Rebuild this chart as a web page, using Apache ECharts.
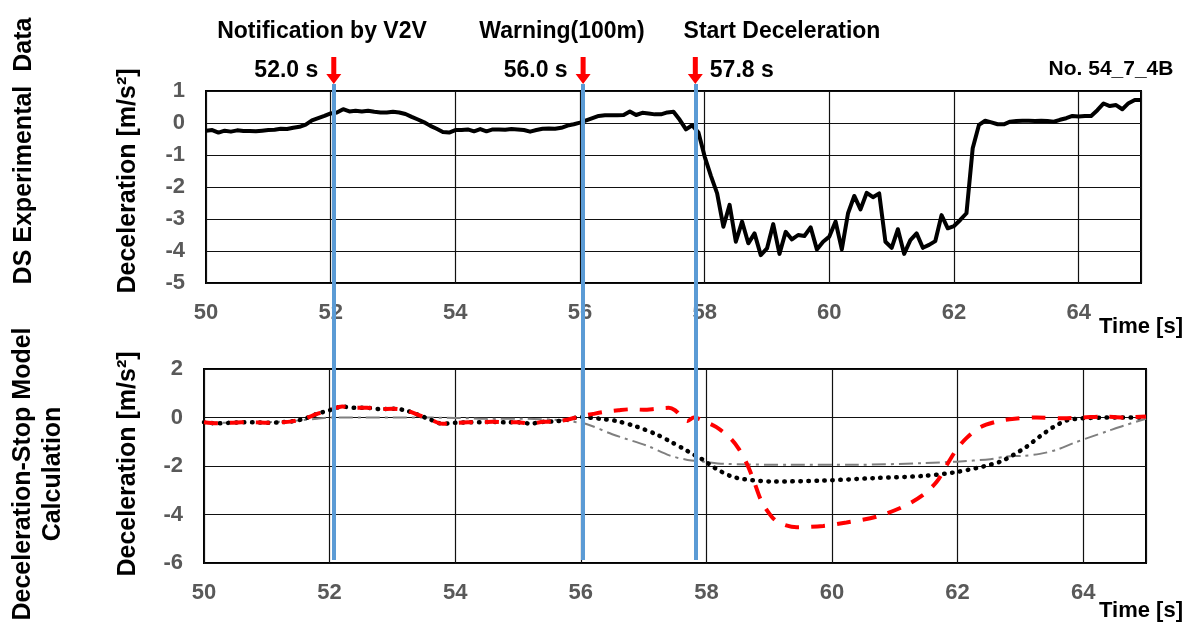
<!DOCTYPE html>
<html>
<head>
<meta charset="utf-8">
<title>Deceleration No. 54_7_4B</title>
<script src="https://cdn.jsdelivr.net/npm/echarts@6/dist/echarts.min.js"></script>
<style>
    html, body {margin: 0; padding: 0; background: #fff;}
    #main {width: 1195px; height: 634px;}
</style>
</head>
<body>
<div id="main"></div>
<script>
/* DS experimental data, sampled every 0.1 s */
var topTime = [
    50.0,50.1,50.2,50.3,50.4,50.5,50.6,50.7,50.8,50.9,
    51.0,51.1,51.2,51.3,51.4,51.5,51.6,51.7,51.8,51.9,
    52.0,52.1,52.2,52.3,52.4,52.5,52.6,52.7,52.8,52.9,
    53.0,53.1,53.2,53.3,53.4,53.5,53.6,53.7,53.8,53.9,
    54.0,54.1,54.2,54.3,54.4,54.5,54.6,54.7,54.8,54.9,
    55.0,55.1,55.2,55.3,55.4,55.5,55.6,55.7,55.8,55.9,
    56.0,56.1,56.2,56.3,56.4,56.5,56.6,56.7,56.8,56.9,
    57.0,57.1,57.2,57.3,57.4,57.5,57.6,57.7,57.8,57.9,
    58.0,58.1,58.2,58.3,58.4,58.5,58.6,58.7,58.8,58.9,
    59.0,59.1,59.2,59.3,59.4,59.5,59.6,59.7,59.8,59.9,
    60.0,60.1,60.2,60.3,60.4,60.5,60.6,60.7,60.8,60.9,
    61.0,61.1,61.2,61.3,61.4,61.5,61.6,61.7,61.8,61.9,
    62.0,62.1,62.2,62.3,62.4,62.5,62.6,62.7,62.8,62.9,
    63.0,63.1,63.2,63.3,63.4,63.5,63.6,63.7,63.8,63.9,
    64.0,64.1,64.2,64.3,64.4,64.5,64.6,64.7,64.8,64.9,
    65.0
];
var topDecel = [
    -0.24,-0.22,-0.30,-0.24,-0.27,-0.23,-0.25,-0.25,-0.26,-0.24,
    -0.22,-0.21,-0.18,-0.19,-0.15,-0.12,-0.05,0.08,0.15,0.22,
    0.30,0.33,0.43,0.36,0.38,0.36,0.38,0.35,0.33,0.33,
    0.35,0.33,0.28,0.19,0.11,0.02,-0.09,-0.18,-0.28,-0.30,
    -0.22,-0.22,-0.20,-0.26,-0.19,-0.26,-0.20,-0.20,-0.21,-0.19,
    -0.20,-0.22,-0.27,-0.22,-0.18,-0.17,-0.18,-0.15,-0.08,-0.04,
    0.01,0.08,0.15,0.22,0.24,0.24,0.24,0.25,0.36,0.25,
    0.32,0.30,0.27,0.27,0.33,0.35,0.10,-0.20,-0.07,-0.30,
    -1.05,-1.65,-2.20,-3.24,-2.56,-3.71,-3.08,-3.76,-3.45,-4.13,
    -3.92,-3.16,-4.09,-3.40,-3.64,-3.50,-3.53,-3.26,-3.95,-3.71,
    -3.55,-3.08,-3.95,-2.82,-2.28,-2.70,-2.18,-2.32,-2.20,-3.71,
    -3.90,-3.32,-4.09,-3.66,-3.45,-3.90,-3.81,-3.69,-2.88,-3.29,
    -3.22,-3.03,-2.82,-0.79,-0.06,0.07,0.02,-0.04,-0.04,0.04,
    0.06,0.07,0.07,0.06,0.07,0.06,0.04,0.10,0.15,0.22,
    0.20,0.22,0.22,0.40,0.61,0.53,0.56,0.43,0.62,0.72,
    0.72
];

/* Deceleration-stop model: red dashed */
var redTime = [
    50.0,50.2,50.4,50.6,50.8,51.0,51.2,51.4,51.6,51.8,
    52.0,52.2,52.4,52.6,52.8,53.0,53.2,53.4,53.6,53.8,
    54.0,54.2,54.4,54.6,54.8,55.0,55.2,55.4,55.6,55.8,
    56.0,56.2,56.4,56.6,56.8,57.0,57.2,57.4,57.5,57.6,57.7,57.8,
    57.98,58.16,58.38,58.51,58.64,58.75,58.88,59.04,59.17,59.44,
    59.86,60.23,60.71,61.14,61.45,61.67,61.83,61.98,62.14,62.36,
    62.62,62.83,63.26,63.68,64.0,64.32,64.64,65.0
];
var redDecel = [
    -0.20,-0.24,-0.22,-0.20,-0.20,-0.22,-0.20,-0.16,-0.05,0.15,
    0.30,0.45,0.40,0.40,0.35,0.36,0.30,0.12,-0.08,-0.26,
    -0.22,-0.20,-0.20,-0.18,-0.20,-0.20,-0.25,-0.18,-0.16,-0.08,
    0.05,0.15,0.24,0.30,0.34,0.32,0.36,0.40,0.30,0.05,-0.14,0.00,
    -0.17,-0.40,-0.85,-1.27,-1.88,-2.57,-3.47,-4.09,-4.36,-4.53,
    -4.47,-4.33,-4.09,-3.67,-3.19,-2.64,-1.95,-1.33,-0.85,-0.40,
    -0.17,-0.07,0.00,-0.03,0.00,0.04,0.00,0.04
];

/* black dotted */
var blackTime = [
    50.0,50.2,50.4,50.6,50.8,51.0,51.2,51.4,51.6,51.8,
    52.0,52.2,52.4,52.6,52.8,53.0,53.2,53.4,53.6,53.8,
    54.0,54.2,54.4,54.6,54.8,55.0,55.2,55.4,55.6,55.8,
    56.0,56.3,56.56,56.88,57.2,57.41,57.65,57.81,57.95,58.14,
    58.38,58.59,59.07,59.86,60.66,61.45,61.93,62.41,62.68,62.89,
    63.1,63.31,63.52,63.74,64.0,64.5,65.0
];
var blackDecel = [
    -0.20,-0.24,-0.22,-0.20,-0.20,-0.22,-0.20,-0.16,-0.05,0.15,
    0.30,0.45,0.40,0.40,0.35,0.36,0.30,0.12,-0.08,-0.26,
    -0.22,-0.20,-0.20,-0.18,-0.20,-0.20,-0.25,-0.18,-0.16,-0.08,
    0.02,-0.05,-0.14,-0.37,-0.69,-0.97,-1.31,-1.55,-1.75,-2.09,
    -2.41,-2.54,-2.64,-2.60,-2.50,-2.41,-2.27,-2.02,-1.82,-1.54,
    -1.20,-0.78,-0.40,-0.12,-0.03,0.00,0.00
];

/* gray dash-dot */
var grayTime = [
    50.0,50.5,51.0,51.5,51.8,52.0,52.5,53.0,53.5,54.0,
    54.5,55.0,55.5,55.8,56.1,56.5,57.06,57.41,57.7,57.95,
    58.27,59.33,60.39,61.45,61.98,62.52,62.78,63.05,63.31,63.58,
    63.84,64.11,64.37,64.64,65.0
];
var grayDecel = [
    -0.20,-0.22,-0.20,-0.12,-0.05,0.00,0.00,0.00,0.00,-0.02,
    -0.05,-0.05,-0.08,-0.15,-0.28,-0.69,-1.17,-1.56,-1.75,-1.82,
    -1.91,-1.95,-1.95,-1.88,-1.82,-1.72,-1.61,-1.58,-1.50,-1.33,
    -1.06,-0.81,-0.58,-0.34,-0.05
];

/* events (blue lines / red arrows) */
var eventTime = [52.05, 56.05, 57.85];
var eventValue = ['52.0 s', '56.0 s', '57.8 s'];
var eventName = ['Notification by V2V', 'Warning(100m)', 'Start Deceleration'];

var FONT = '"Liberation Sans", Arial, sans-serif';
var arrowPath = 'path://M-2.5,0 L2.5,0 L2.5,17 L7.5,17 L0,27 L-7.5,17 L-2.5,17 Z';

function pairs(t, v){
    var out = [];
    for (var i = 0; i < t.length; i++) {
        out.push([t[i], v[i]]);
    }
    return out;
}

function timeAxis(idx){
    return {
        type: 'value', gridIndex: idx, min: 50, max: 65, interval: 2,
        axisLine: {show: false}, axisTick: {show: false},
        splitLine: {show: true, lineStyle: {color: '#111', width: 1.2}},
        axisLabel: {
            show: true, margin: 19, color: '#595959', fontSize: 22,
            fontWeight: 'bold', fontFamily: FONT, showMaxLabel: false
        }
    };
}
function decelAxis(idx, min, max, step){
    return {
        type: 'value', gridIndex: idx, min: min, max: max, interval: step,
        axisLine: {show: false}, axisTick: {show: false},
        splitLine: {show: true, lineStyle: {color: '#111', width: 1.2}},
        axisLabel: {
            margin: 21, color: '#595959', fontSize: 22,
            fontWeight: 'bold', fontFamily: FONT
        }
    };
}

var arrowData = [], lineData = [];
for (var i = 0; i < eventTime.length; i++) {
    arrowData.push({
        value: [eventTime[i], 1],
        label: {
            show: true,
            formatter: eventValue[i],
            position: i < 2 ? 'left' : 'right',
            distance: i < 2 ? 8 : 7
        }
    });
    lineData.push({xAxis: eventTime[i]});
}

var txt = function(text, x, y, size, opts){
    var o = {
        type: 'text', x: x, y: y, z: 100,
        style: {
            text: text, fill: '#000', font: 'bold ' + size + 'px ' + FONT,
            textAlign: 'center', textVerticalAlign: 'middle'
        }
    };
    if (opts) {
        for (var k in opts) { o[k] = opts[k]; }
    }
    return o;
};

var option = {
    animation: false,
    backgroundColor: '#fff',
    grid: [
        {left: 206, right: 54, top: 91, height: 192, show: true, borderColor: '#000', borderWidth: 2, backgroundColor: 'transparent'},
        {left: 204, right: 49, top: 369, height: 194, show: true, borderColor: '#000', borderWidth: 2, backgroundColor: 'transparent'},
        {left: 206, right: 54, top: 84, bottom: 74}
    ],
    xAxis: [
        timeAxis(0),
        timeAxis(1),
        {type: 'value', gridIndex: 2, min: 50, max: 65, show: false}
    ],
    yAxis: [
        decelAxis(0, -5, 1, 1),
        decelAxis(1, -6, 2, 2),
        {type: 'value', gridIndex: 2, min: 0, max: 1, show: false}
    ],
    series: [
        {
            name: 'DS Experimental', type: 'line', xAxisIndex: 0, yAxisIndex: 0,
            symbol: 'none', data: pairs(topTime, topDecel),
            lineStyle: {color: '#000', width: 4, join: 'round'}, z: 3
        },
        {
            name: 'model gray', type: 'line', xAxisIndex: 1, yAxisIndex: 1,
            symbol: 'none', smooth: 0.3, data: pairs(grayTime, grayDecel),
            lineStyle: {color: '#7f7f7f', width: 2, type: [14, 5, 3, 5]}, z: 2
        },
        {
            name: 'model black', type: 'line', xAxisIndex: 1, yAxisIndex: 1,
            symbol: 'none', smooth: 0.3, data: pairs(blackTime, blackDecel),
            lineStyle: {color: '#000', width: 4.5, type: [0.5, 7.5], cap: 'round'}, z: 3
        },
        {
            name: 'model red', type: 'line', xAxisIndex: 1, yAxisIndex: 1,
            symbol: 'none', smooth: 0.3, data: pairs(redTime, redDecel),
            lineStyle: {color: '#ff0000', width: 4, type: [14, 12]}, z: 4
        },
        {
            name: 'events', type: 'line', xAxisIndex: 2, yAxisIndex: 2,
            data: [], symbol: 'none', z: 8,
            markLine: {
                silent: true, symbol: ['none', 'none'], animation: false,
                label: {show: false},
                lineStyle: {color: '#5b9bd5', width: 4, type: 'solid'},
                data: lineData
            }
        },
        {
            name: 'arrows', type: 'scatter', xAxisIndex: 2, yAxisIndex: 2,
            symbol: arrowPath, symbolSize: [15, 27], symbolOffset: [0, -13.5],
            itemStyle: {color: '#ff0000', opacity: 1},
            label: {color: '#000', fontSize: 23, fontWeight: 'bold', fontFamily: FONT},
            data: arrowData, z: 10
        }
    ],
    graphic: [
        txt(eventName[0], 322, 32, 23),
        txt(eventName[1], 562, 32, 23),
        txt(eventName[2], 782, 32, 23),
        txt('No. 54_7_4B', 1111, 69, 21),
        txt('Time [s]', 1141, 327, 22),
        txt('Time [s]', 1141, 611, 22),
        txt('Deceleration [m/s\u00b2]', 128, 181, 25, {rotation: Math.PI / 2}),
        txt('Deceleration [m/s\u00b2]', 128, 464, 25, {rotation: Math.PI / 2}),
        txt('DS Experimental  Data', 24, 151, 25, {rotation: Math.PI / 2}),
        {
            type: 'text', x: 38, y: 474, z: 100, rotation: Math.PI / 2,
            style: {
                text: 'Deceleration-Stop Model\nCalculation', fill: '#000',
                font: 'bold 25px ' + FONT, lineHeight: 30,
                textAlign: 'center', textVerticalAlign: 'middle'
            }
        }
    ]
};

var myChart = echarts.init(document.getElementById('main'));
myChart.setOption(option);
</script>
</body>
</html>
